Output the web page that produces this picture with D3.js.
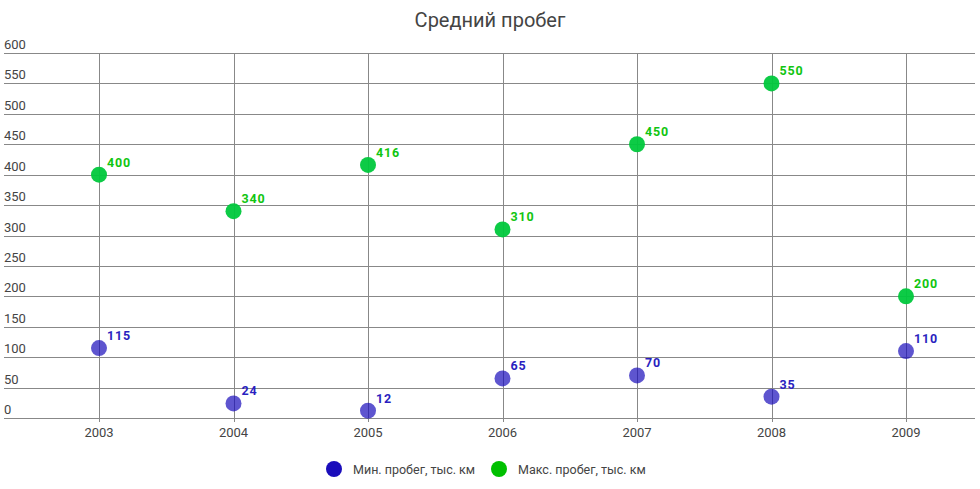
<!DOCTYPE html>
<html>
<head>
<meta charset="utf-8">
<script src="https://cdn.jsdelivr.net/npm/d3@7"></script>
<style>
  body { margin: 0; background: #fff; font-family: Roboto, sans-serif; }
</style>
</head>
<body>
<div id="chart"></div>
<script>
const years = [2003, 2004, 2005, 2006, 2007, 2008, 2009];
const minMileage = [115, 24, 12, 65, 70, 35, 110];
const maxMileage = [400, 340, 416, 310, 450, 550, 200];
const yTicks = [0, 50, 100, 150, 200, 250, 300, 350, 400, 450, 500, 550, 600];
const seriesNames = ["Мин. пробег, тыс. км", "Макс. пробег, тыс. км"];

const width = 980, height = 489;
const plotLeft = 4, plotRight = 975, plotTop = 53, plotBottom = 418;

const svg = d3.select("#chart").append("svg")
    .attr("width", width)
    .attr("height", height);

const x = d3.scaleLinear()
    .domain([2003, 2009])
    .range([99, 906]);

const y = d3.scaleLinear()
    .domain([0, 600])
    .range([plotBottom, plotTop]);

svg.append("text")
    .attr("x", 490)
    .attr("y", 27)
    .attr("text-anchor", "middle")
    .attr("font-size", 20)
    .attr("fill", "#444")
    .text("Средний пробег");

// horizontal grid + labels
const yg = svg.append("g");
yg.selectAll("line")
    .data(yTicks)
    .join("line")
    .attr("x1", plotLeft).attr("x2", plotRight)
    .attr("y1", d => Math.round(y(d)) + 0.5)
    .attr("y2", d => Math.round(y(d)) + 0.5)
    .attr("stroke", "#888")
    .attr("stroke-width", 1);
yg.selectAll("text")
    .data(yTicks)
    .join("text")
    .attr("x", plotLeft)
    .attr("y", d => y(d) - 4)
    .attr("font-size", 13)
    .attr("fill", "#444")
    .text(d => d);

// vertical grid + labels
const xg = svg.append("g");
xg.selectAll("line")
    .data(years)
    .join("line")
    .attr("x1", d => Math.round(x(d)) + 0.5)
    .attr("x2", d => Math.round(x(d)) + 0.5)
    .attr("y1", plotTop).attr("y2", plotBottom + 4)
    .attr("stroke", "#888")
    .attr("stroke-width", 1);
xg.selectAll("text")
    .data(years)
    .join("text")
    .attr("x", d => x(d))
    .attr("y", 437)
    .attr("text-anchor", "middle")
    .attr("font-size", 13)
    .attr("fill", "#444")
    .text(d => d);

const series = [
  { name: seriesNames[0], values: minMileage, dot: "#1a0dbb", label: "#2a1fc0", legend: "#1a0dbb", op: 0.7 },
  { name: seriesNames[1], values: maxMileage, dot: "#00c83c", label: "#11c511", legend: "#00c000", op: 0.95 }
];

series.forEach(s => {
  const g = svg.append("g");
  g.selectAll("circle")
    .data(years)
    .join("circle")
    .attr("cx", d => x(d))
    .attr("cy", (d, i) => y(s.values[i]))
    .attr("r", 8)
    .attr("fill", s.dot)
    .attr("fill-opacity", s.op);
  g.selectAll("text")
    .data(years)
    .join("text")
    .attr("x", d => x(d) + 8)
    .attr("y", (d, i) => y(s.values[i]) - 8)
    .attr("font-size", 12.5)
    .attr("font-weight", "bold")
    .attr("letter-spacing", 0.8)
    .attr("fill", s.label)
    .text((d, i) => s.values[i]);
});

// legend
const legendPos = [334, 499];
series.forEach((s, i) => {
  svg.append("circle")
    .attr("cx", legendPos[i])
    .attr("cy", 469)
    .attr("r", 8)
    .attr("fill", s.legend);
  svg.append("text")
    .attr("x", legendPos[i] + 19)
    .attr("y", 474)
    .attr("font-size", 12.5)
    .attr("fill", "#444")
    .text(s.name);
});
</script>
</body>
</html>
